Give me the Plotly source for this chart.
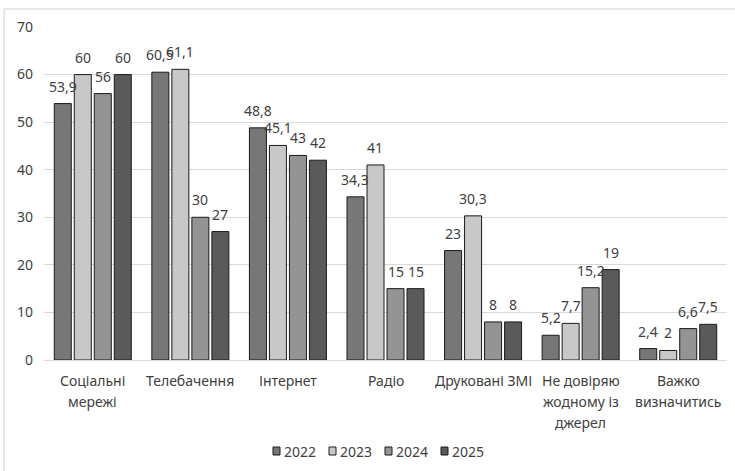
import plotly.graph_objects as go

categories = ["Соціальні<br>мережі", "Телебачення", "Інтернет", "Радіо",
              "Друковані ЗМІ", "Не довіряю<br>жодному із<br>джерел", "Важко<br>визначитись"]
years = ["2022", "2023", "2024", "2025"]
v2022 = [53.9, 60.5, 48.8, 34.3, 23, 5.2, 2.4]
v2023 = [60, 61.1, 45.1, 41, 30.3, 7.7, 2]
v2024 = [56, 30, 43, 15, 8, 15.2, 6.6]
v2025 = [60, 27, 42, 15, 8, 19, 7.5]
series = [v2022, v2023, v2024, v2025]
colors = ["#777777", "#c8c8c8", "#949494", "#5a5a5a"]

W, H = 735, 471
L, R, T, B = 44, 8, 27, 111
pw, ph = W - L - R, H - T - B
bargap = 0.18
slot = pw / len(categories) * (1 - bargap) / len(years)


def px_x(px):
    return (px - L) / pw


def px_y(py):
    return (H - B - py) / ph


fig = go.Figure()
annotations = []
shapes = [dict(type="rect", xref="paper", yref="paper",
               x0=px_x(4), x1=px_x(760), y0=px_y(490), y1=px_y(9),
               line=dict(color="#d0d0d0", width=1), fillcolor="rgba(0,0,0,0)",
               layer="below")]
for i, (name, vals, col) in enumerate(zip(years, series, colors)):
    fig.add_trace(go.Bar(
        name=name, x=categories, y=vals,
        marker=dict(color=col, line=dict(color="#1a1a1a", width=1)),
        showlegend=False,
    ))
    for c, v in zip(categories, vals):
        annotations.append(dict(
            x=c, y=v, xref="x", yref="y", text=f"{v:g}".replace(".", ","),
            showarrow=False, yanchor="bottom", yshift=6,
            xshift=(i - 1.5) * slot,
            font=dict(size=14, color="#404040"),
        ))
    # custom legend entry
    sx = 273 + i * 56
    shapes.append(dict(type="rect", xref="paper", yref="paper",
                       x0=px_x(sx), x1=px_x(sx + 7), y0=px_y(455), y1=px_y(447),
                       fillcolor=col, line=dict(color="#1a1a1a", width=1)))
    annotations.append(dict(x=px_x(sx + 9), y=px_y(451), xref="paper", yref="paper",
                            text=name, showarrow=False, xanchor="left", yanchor="middle",
                            font=dict(size=14, color="#404040")))

# category labels (multi-line, with the reference's wider line spacing)
for c in categories:
    for k, line in enumerate(c.split("<br>")):
        annotations.append(dict(
            x=c, y=0, xref="x", yref="paper", text=line, showarrow=False,
            xanchor="center", yanchor="middle", yshift=-(20 + 21 * k),
            font=dict(size=14, color="#404040")))

fig.update_layout(
    width=W, height=H,
    margin=dict(l=L, r=R, t=T, b=B, autoexpand=False),
    paper_bgcolor="white", plot_bgcolor="white",
    barmode="group", bargap=bargap, bargroupgap=0.15,
    font=dict(family="Noto Sans, Open Sans, sans-serif", size=14, color="#404040"),
    showlegend=False,
    xaxis=dict(showgrid=False, showline=False, ticks="", showticklabels=False,
               automargin=False),
    yaxis=dict(range=[0, 70], dtick=10, showgrid=True, gridcolor="#d9d9d9",
               gridwidth=1, zeroline=True, zerolinecolor="#d9d9d9", zerolinewidth=1,
               showline=False, ticks="", tickfont=dict(size=14, color="#404040"),
               ticklabelstandoff=10, automargin=False),
    annotations=annotations,
    shapes=shapes,
)

fig.write_html("out.html", config={"displayModeBar": False},
               post_script="document.body.style.margin='0';")
